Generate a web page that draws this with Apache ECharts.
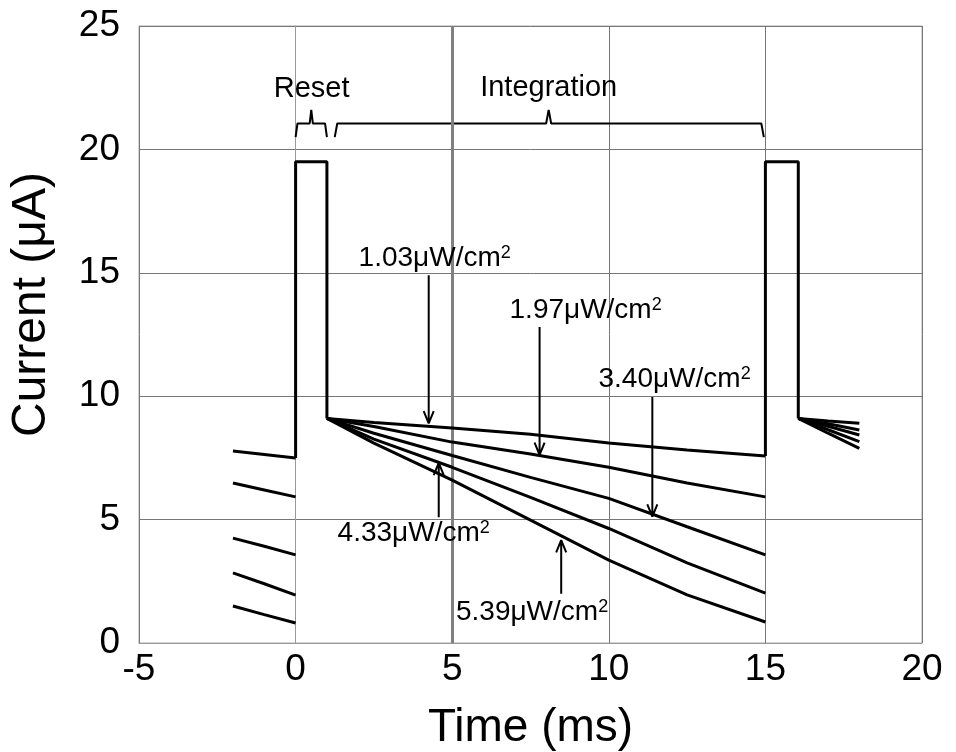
<!DOCTYPE html>
<html>
<head>
<meta charset="utf-8">
<script src="https://cdn.jsdelivr.net/npm/echarts@6/dist/echarts.min.js"></script>
<style>
  html, body { margin: 0; padding: 0; background: #fff; }
  #main { width: 956px; height: 752px; }
</style>
</head>
<body>
<div id="main"></div>
<script>
// irradiance of each trace (uW/cm2)
var intensities = ['1.03', '1.97', '3.40', '4.33', '5.39'];

// tail of the previous frame, before reset
var timeTail = [-2, -1, 0];
var tail103 = [7.78, 7.64, 7.50];
var tail197 = [6.48, 6.20, 5.92];
var tail340 = [4.25, 3.92, 3.57];
var tail433 = [2.84, 2.40, 1.94];
var tail539 = [1.50, 1.15, 0.81];

// integration phase
var timeMain = [1, 2.5, 5, 7.5, 10, 12.5, 15];
var main103 = [9.1, 8.93, 8.71, 8.46, 8.10, 7.82, 7.58];
var main197 = [9.1, 8.77, 8.14, 7.66, 7.12, 6.48, 5.92];
var main340 = [9.1, 8.50, 7.60, 6.71, 5.86, 4.71, 3.57];
var main433 = [9.1, 8.26, 7.12, 5.90, 4.64, 3.25, 2.02];
var main539 = [9.1, 8.10, 6.60, 4.98, 3.36, 1.95, 0.85];

// start of the next frame
var timeNext = [16.05, 17, 18];
var next103 = [9.1, 9.00, 8.90];
var next197 = [9.1, 8.88, 8.63];
var next340 = [9.1, 8.78, 8.43];
var next433 = [9.1, 8.64, 8.16];
var next539 = [9.1, 8.50, 7.89];

// reset pulses
var pulseTime1 = [0, 0, 1.0, 1.0];
var pulseValue1 = [7.5, 19.5, 19.5, 9.1];
var pulseTime2 = [15, 15, 16.05, 16.05];
var pulseValue2 = [7.58, 19.5, 19.5, 9.1];

// axis ticks
var xTicks = [-5, 0, 5, 10, 15, 20];
var yTicks = [0, 5, 10, 15, 20, 25];

var tails = [tail103, tail197, tail340, tail433, tail539];
var mains = [main103, main197, main340, main433, main539];
var nexts = [next103, next197, next340, next433, next539];

// annotation placement (data coords): label centre, arrow x, arrow start, arrow tip
var notes = [
    { x: 4.44, y: 15.6, ax: 4.25, from: 14.9, to: 8.9 },
    { x: 9.26, y: 13.5, ax: 7.79, from: 12.8, to: 7.62 },
    { x: 12.1, y: 10.7, ax: 11.39, from: 9.97, to: 5.12 },
    { x: 3.77, y: 4.45, ax: 4.57, from: 5.1, to: 7.3 },
    { x: 7.55, y: 1.25, ax: 8.48, from: 2.0, to: 4.17 }
];

function zip(xs, ys) {
    return xs.map(function (x, i) { return [x, ys[i]]; });
}

function traceSeries(data) {
    return {
        type: 'line',
        data: data,
        symbol: 'none',
        silent: true,
        lineStyle: { color: '#000', width: 3 },
        z: 5
    };
}

var series = [];
for (var i = 0; i < intensities.length; i++) {
    series.push(traceSeries(zip(timeTail, tails[i])));
    series.push(traceSeries(zip(timeMain, mains[i])));
    series.push(traceSeries(zip(timeNext, nexts[i])));
}
series.push(traceSeries(zip(pulseTime1, pulseValue1)));
series.push(traceSeries(zip(pulseTime2, pulseValue2)));

// thick marker at 5 ms
series[0].markLine = {
    silent: true,
    symbol: 'none',
    label: { show: false },
    lineStyle: { color: '#808080', width: 3, type: 'solid' },
    data: [{ xAxis: 5 }]
};

// arrows
notes.forEach(function (n) {
    var dx = 0.16;
    var dy = n.to < n.from ? 0.5 : -0.5;
    series.push({
        type: 'line',
        symbol: 'none',
        silent: true,
        lineStyle: { color: '#000', width: 2 },
        data: [[n.ax, n.from], [n.ax, n.to], [n.ax - dx, n.to + dy], [n.ax, n.to], [n.ax + dx, n.to + dy]],
        z: 6
    });
});

// phase brackets
series.push({
    type: 'line', symbol: 'none', silent: true,
    lineStyle: { color: '#000', width: 2 },
    data: [[0, 20.5], [0.06, 21.05], [0.45, 21.05], [0.5, 21.6], [0.55, 21.05], [0.94, 21.05], [1.0, 20.5]]
});
series.push({
    type: 'line', symbol: 'none', silent: true,
    lineStyle: { color: '#000', width: 2 },
    data: [[1.25, 20.5], [1.33, 21.05], [8.0, 21.05], [8.08, 21.6], [8.16, 21.05], [14.87, 21.05], [14.95, 20.5]]
});

// text labels
var labelStyle = {
    show: true,
    position: 'inside',
    formatter: '{b}',
    color: '#000',
    textBorderWidth: 0,
    opacity: 1,
    rich: {
        a: { fontFamily: 'Liberation Sans', fontSize: 28, color: '#000', textBorderWidth: 0 },
        b: { fontFamily: 'Liberation Sans', fontSize: 29, color: '#000', textBorderWidth: 0 },
        s: { fontFamily: 'Liberation Sans', fontSize: 18, color: '#000', textBorderWidth: 0, verticalAlign: 'top' }
    }
};
var labelData = notes.map(function (n, i) {
    return { value: [n.x, n.y], name: '{a|' + intensities[i] + 'μW/cm}{s|2}' };
});
labelData.push({ value: [0.51, 22.45], name: '{b|Reset}' });
labelData.push({ value: [8.08, 22.5], name: '{b|Integration}' });
series.push({
    type: 'scatter',
    symbolSize: 1,
    silent: true,
    itemStyle: { color: '#fff', opacity: 0 },
    label: labelStyle,
    data: labelData,
    z: 7
});

var myChart = echarts.init(document.getElementById('main'));

var option = {
    animation: false,
    backgroundColor: '#fff',
    grid: {
        left: 139,
        right: 34,
        top: 26,
        bottom: 109,
        outerBoundsMode: 'none',
        show: true,
        borderColor: '#aaa',
        borderWidth: 1
    },
    xAxis: {
        type: 'value',
        min: xTicks[0],
        max: xTicks[xTicks.length - 1],
        interval: 5,
        name: 'Time (ms)',
        nameLocation: 'middle',
        nameGap: 62,
        nameTextStyle: { fontFamily: 'Liberation Sans', fontSize: 46, color: '#000' },
        axisLine: { lineStyle: { color: '#999', width: 1 } },
        axisTick: { show: false },
        axisLabel: { fontFamily: 'Liberation Sans', fontSize: 37, color: '#000', margin: 8 },
        splitLine: { show: true, lineStyle: { color: '#777', width: 1 } }
    },
    yAxis: {
        type: 'value',
        min: yTicks[0],
        max: yTicks[yTicks.length - 1],
        interval: 5,
        name: 'Current (μA)',
        nameLocation: 'middle',
        nameGap: 83,
        nameTextStyle: {
            fontFamily: 'Liberation Sans', fontSize: 48, color: '#000',
            padding: [0, 0, 0, 60]
        },
        axisLine: { show: true, lineStyle: { color: '#999', width: 1 } },
        axisTick: { show: false },
        axisLabel: { fontFamily: 'Liberation Sans', fontSize: 37, color: '#000', margin: 19 },
        splitLine: { show: true, lineStyle: { color: '#777', width: 1 } }
    },
    series: series
};

myChart.setOption(option);
</script>
</body>
</html>
